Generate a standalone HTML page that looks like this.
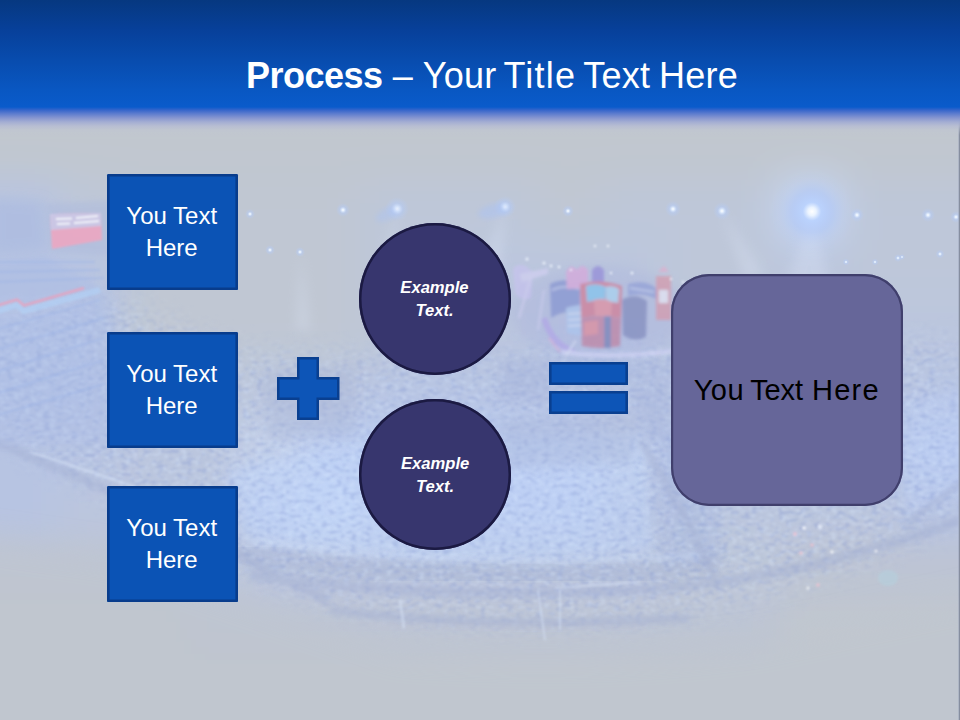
<!DOCTYPE html>
<html lang="en">
<head>
<meta charset="utf-8">
<title>Process – Your Title Text Here</title>
<style>
  html, body { margin: 0; padding: 0; }
  body { width: 960px; height: 720px; overflow: hidden; background: #c1c7cf;
         font-family: "Liberation Sans", sans-serif; }
  #slide { position: relative; width: 960px; height: 720px; overflow: hidden; }
  #bg { position: absolute; left: 0; top: 0; width: 960px; height: 720px; display: block; }

  /* header band */
  #header { position: absolute; left: 0; top: 0; width: 960px; height: 136px;
    background: linear-gradient(to bottom,
      #063880 0px, #07409a 30px, #084cae 60px, #0957c2 90px, #0a5bcb 107px,
      #3565cb 110px, #5b7bce 113.5px, #8796d0 118px, rgba(162,172,211,0.95) 122px,
      rgba(181,187,211,0.8) 126px, rgba(190,196,210,0.4) 130px, rgba(193,199,207,0) 135px); }

  #title { position: absolute; left: 0; top: 51px; width: 960px; height: 50px; margin: 0;
    color: #fff; font-weight: normal; font-size: 36px; line-height: 50px;
    white-space: nowrap; letter-spacing: 0.25px; }
  #title .in { position: absolute; left: 246px; top: 0; }
  #title b { font-size: 36px; letter-spacing: -0.5px; }
  #title .t1 { letter-spacing: 1.25px; margin-left: -3.3px; margin-right: -2.8px; }
  #title .t2 { margin-left: -1.4px; }

  .box { position: absolute; left: 107px; width: 131px; height: 116px;
    background: #0b53b5; box-shadow: inset 0 0 0 2.6px #083c8c; border-radius: 1.5px;
    color: #fff; font-size: 24px; line-height: 32px; text-align: center;
    display: flex; align-items: center; justify-content: center; }
  .box span { display: block; letter-spacing: 0; position: relative; left: -0.8px; }

  .circ { position: absolute; left: 359.2px; width: 151.6px; height: 151.6px;
    border-radius: 50%; background: #37366e; box-shadow: inset 0 0 0 2.5px #1b1a42;
    color: #fff; font-weight: bold; font-style: italic; font-size: 16.6px;
    line-height: 23px; text-align: center;
    display: flex; align-items: center; justify-content: center; }
  .circ span { display: block; position: relative; top: 0px; left: -0.5px; }

  .bar { position: absolute; left: 549px; width: 79px; height: 23px;
    background: #0d55b7; box-shadow: inset 0 0 0 2.6px #093f90; }

  #big { position: absolute; left: 671px; top: 274px; width: 232px; height: 231.5px;
    border-radius: 38px; background: #666699; box-shadow: inset 0 0 0 2.2px #403f6c;
    color: #000; font-size: 29px; letter-spacing: 0.45px; line-height: 36px; text-align: center; white-space: nowrap;
    display: flex; align-items: center; justify-content: center; }

  #big > span { position: relative; left: -0.8px; }
  #big .w2 { letter-spacing: -0.1px; margin-left: -2.4px; }
  #big .w3 { letter-spacing: 1.25px; margin-left: 0.6px; margin-right: -1.2px; }
  #plus { position: absolute; left: 276px; top: 356px; width: 65px; height: 65px; }
</style>
</head>
<body>
<div id="slide">
  <svg id="bg" width="960" height="720" viewBox="0 0 960 720">
    <defs>
      <filter id="b30" x="-20%" y="-20%" width="140%" height="140%"><feGaussianBlur stdDeviation="30"/></filter>
      <filter id="b20" x="-5%" y="-5%" width="110%" height="110%"><feGaussianBlur stdDeviation="20"/></filter>
      <filter id="b14" x="-20%" y="-20%" width="140%" height="140%"><feGaussianBlur stdDeviation="14"/></filter>
      <filter id="b6" x="-20%" y="-20%" width="140%" height="140%"><feGaussianBlur stdDeviation="6"/></filter>
      <filter id="b3" x="-20%" y="-20%" width="140%" height="140%"><feGaussianBlur stdDeviation="2.5"/></filter>
      <filter id="b2" x="-20%" y="-20%" width="140%" height="140%"><feGaussianBlur stdDeviation="1.5"/></filter>
      <filter id="b1" x="-20%" y="-20%" width="140%" height="140%"><feGaussianBlur stdDeviation="1"/></filter>
      <filter id="crowd" x="-10%" y="-15%" width="120%" height="130%" color-interpolation-filters="sRGB">
        <feTurbulence type="fractalNoise" baseFrequency="0.14 0.26" numOctaves="2" seed="11" result="n"/>
        <feColorMatrix in="n" type="matrix" values="0 0 0 0 0.50  0 0 0 0 0.58  0 0 0 0 0.82  6 0 0 0 -3.15" result="c"/>
        <feGaussianBlur in="c" stdDeviation="0.8" result="cb"/>
        <feGaussianBlur in="SourceAlpha" stdDeviation="14" result="m"/>
        <feComposite in="cb" in2="m" operator="in"/>
      </filter>
      <filter id="crowdL" x="-10%" y="-15%" width="120%" height="130%" color-interpolation-filters="sRGB">
        <feTurbulence type="fractalNoise" baseFrequency="0.16 0.3" numOctaves="2" seed="23" result="n"/>
        <feColorMatrix in="n" type="matrix" values="0 0 0 0 0.86  0 0 0 0 0.92  0 0 0 0 1.0  0 6 0 0 -3.15" result="c"/>
        <feGaussianBlur in="c" stdDeviation="0.8" result="cb"/>
        <feGaussianBlur in="SourceAlpha" stdDeviation="14" result="m"/>
        <feComposite in="cb" in2="m" operator="in"/>
      </filter>
      <radialGradient id="bigspot">
        <stop offset="0" stop-color="#ffffff" stop-opacity="1"/>
        <stop offset="0.1" stop-color="#eaf3ff" stop-opacity="1"/>
        <stop offset="0.22" stop-color="#b9d2ff" stop-opacity="0.85"/>
        <stop offset="0.5" stop-color="#a9c4fb" stop-opacity="0.42"/>
        <stop offset="0.78" stop-color="#b4caf6" stop-opacity="0.12"/>
        <stop offset="1" stop-color="#b4caf6" stop-opacity="0"/>
      </radialGradient>
      <radialGradient id="spot">
        <stop offset="0" stop-color="#ffffff" stop-opacity="1"/>
        <stop offset="0.18" stop-color="#e4f0ff" stop-opacity="0.9"/>
        <stop offset="0.5" stop-color="#b4ccfa" stop-opacity="0.45"/>
        <stop offset="1" stop-color="#b4ccfa" stop-opacity="0"/>
      </radialGradient>
    </defs>
    <rect width="960" height="720" fill="#c1c7cf"/>
    <!-- low-frequency tonal map of the arena photo -->
    <g filter="url(#b20)">
      <rect x="-90" y="90" width="151" height="91" fill="#c1c7cf"/>
      <rect x="60" y="90" width="61" height="91" fill="#c1c7cf"/>
      <rect x="120" y="90" width="61" height="91" fill="#c1c7cf"/>
      <rect x="180" y="90" width="61" height="91" fill="#c1c7cf"/>
      <rect x="240" y="90" width="61" height="91" fill="#c1c7cf"/>
      <rect x="300" y="90" width="61" height="91" fill="#c1c7cf"/>
      <rect x="360" y="90" width="61" height="91" fill="#c1c7cf"/>
      <rect x="420" y="90" width="61" height="91" fill="#c1c7cf"/>
      <rect x="480" y="90" width="61" height="91" fill="#c1c7cf"/>
      <rect x="540" y="90" width="61" height="91" fill="#c1c7cf"/>
      <rect x="600" y="90" width="61" height="91" fill="#c1c7cf"/>
      <rect x="660" y="90" width="61" height="91" fill="#c1c7cf"/>
      <rect x="720" y="90" width="61" height="91" fill="#c1c7cf"/>
      <rect x="780" y="90" width="61" height="91" fill="#c1c7cf"/>
      <rect x="840" y="90" width="61" height="91" fill="#c1c7cf"/>
      <rect x="900" y="90" width="151" height="91" fill="#c1c7cf"/>
      <rect x="-90" y="180" width="151" height="61" fill="#b7c4e2"/>
      <rect x="60" y="180" width="61" height="61" fill="#bec7d9"/>
      <rect x="120" y="180" width="61" height="61" fill="#c0c7d3"/>
      <rect x="180" y="180" width="61" height="61" fill="#c0c7d3"/>
      <rect x="240" y="180" width="61" height="61" fill="#c0c7d3"/>
      <rect x="300" y="180" width="61" height="61" fill="#c0c7d3"/>
      <rect x="360" y="180" width="61" height="61" fill="#bec7d9"/>
      <rect x="420" y="180" width="61" height="61" fill="#bec7d9"/>
      <rect x="480" y="180" width="61" height="61" fill="#bec7d9"/>
      <rect x="540" y="180" width="61" height="61" fill="#c0c7d3"/>
      <rect x="600" y="180" width="61" height="61" fill="#bec7d9"/>
      <rect x="660" y="180" width="61" height="61" fill="#bec7d9"/>
      <rect x="720" y="180" width="61" height="61" fill="#bec7d9"/>
      <rect x="780" y="180" width="61" height="61" fill="#c7d8f7"/>
      <rect x="840" y="180" width="61" height="61" fill="#bec7d9"/>
      <rect x="900" y="180" width="151" height="61" fill="#bec7d9"/>
      <rect x="-90" y="240" width="151" height="61" fill="#b7c4e2"/>
      <rect x="60" y="240" width="61" height="61" fill="#b7c4e2"/>
      <rect x="120" y="240" width="61" height="61" fill="#c0c7d3"/>
      <rect x="180" y="240" width="61" height="61" fill="#c0c7d3"/>
      <rect x="240" y="240" width="61" height="61" fill="#c0c7d3"/>
      <rect x="300" y="240" width="61" height="61" fill="#c0c7d3"/>
      <rect x="360" y="240" width="61" height="61" fill="#bec7d9"/>
      <rect x="420" y="240" width="61" height="61" fill="#bec7d9"/>
      <rect x="480" y="240" width="61" height="61" fill="#bbc6de"/>
      <rect x="540" y="240" width="61" height="61" fill="#bbc6de"/>
      <rect x="600" y="240" width="61" height="61" fill="#bbc6de"/>
      <rect x="660" y="240" width="61" height="61" fill="#bec7d9"/>
      <rect x="720" y="240" width="61" height="61" fill="#bec7d9"/>
      <rect x="780" y="240" width="61" height="61" fill="#bbc6de"/>
      <rect x="840" y="240" width="61" height="61" fill="#bec7d9"/>
      <rect x="900" y="240" width="151" height="61" fill="#bec7d9"/>
      <rect x="-90" y="300" width="151" height="61" fill="#b5c4e5"/>
      <rect x="60" y="300" width="61" height="61" fill="#b5c4e5"/>
      <rect x="120" y="300" width="61" height="61" fill="#c0c7d3"/>
      <rect x="180" y="300" width="61" height="61" fill="#c0c7d3"/>
      <rect x="240" y="300" width="61" height="61" fill="#c0c7d3"/>
      <rect x="300" y="300" width="61" height="61" fill="#c0c7d3"/>
      <rect x="360" y="300" width="61" height="61" fill="#bec7d9"/>
      <rect x="420" y="300" width="61" height="61" fill="#bbc6de"/>
      <rect x="480" y="300" width="61" height="61" fill="#bbc6de"/>
      <rect x="540" y="300" width="61" height="61" fill="#b7c4e2"/>
      <rect x="600" y="300" width="61" height="61" fill="#b7c4e2"/>
      <rect x="660" y="300" width="61" height="61" fill="#bbc6de"/>
      <rect x="720" y="300" width="61" height="61" fill="#bbc6de"/>
      <rect x="780" y="300" width="61" height="61" fill="#bbc6de"/>
      <rect x="840" y="300" width="61" height="61" fill="#bbc6de"/>
      <rect x="900" y="300" width="151" height="61" fill="#bbc6de"/>
      <rect x="-90" y="360" width="151" height="61" fill="#b5c4e5"/>
      <rect x="60" y="360" width="61" height="61" fill="#b5c4e5"/>
      <rect x="120" y="360" width="61" height="61" fill="#bbc6de"/>
      <rect x="180" y="360" width="61" height="61" fill="#bec7d9"/>
      <rect x="240" y="360" width="61" height="61" fill="#bbc6de"/>
      <rect x="300" y="360" width="61" height="61" fill="#bbc6de"/>
      <rect x="360" y="360" width="61" height="61" fill="#b7c4e2"/>
      <rect x="420" y="360" width="61" height="61" fill="#b7c4e2"/>
      <rect x="480" y="360" width="61" height="61" fill="#b7c4e2"/>
      <rect x="540" y="360" width="61" height="61" fill="#b7c4e2"/>
      <rect x="600" y="360" width="61" height="61" fill="#b7c4e2"/>
      <rect x="660" y="360" width="61" height="61" fill="#b7c4e2"/>
      <rect x="720" y="360" width="61" height="61" fill="#b7c4e2"/>
      <rect x="780" y="360" width="61" height="61" fill="#b7c4e2"/>
      <rect x="840" y="360" width="61" height="61" fill="#bbc6de"/>
      <rect x="900" y="360" width="151" height="61" fill="#b7c4e2"/>
      <rect x="-90" y="420" width="151" height="61" fill="#b7c4e2"/>
      <rect x="60" y="420" width="61" height="61" fill="#b7c4e2"/>
      <rect x="120" y="420" width="61" height="61" fill="#bbc6de"/>
      <rect x="180" y="420" width="61" height="61" fill="#bbc6de"/>
      <rect x="240" y="420" width="61" height="61" fill="#c5d1ea"/>
      <rect x="300" y="420" width="61" height="61" fill="#bccdf1"/>
      <rect x="360" y="420" width="61" height="61" fill="#bccdf1"/>
      <rect x="420" y="420" width="61" height="61" fill="#bccdf1"/>
      <rect x="480" y="420" width="61" height="61" fill="#bccdf1"/>
      <rect x="540" y="420" width="61" height="61" fill="#bccdf1"/>
      <rect x="600" y="420" width="61" height="61" fill="#c5d1ea"/>
      <rect x="660" y="420" width="61" height="61" fill="#b7c4e2"/>
      <rect x="720" y="420" width="61" height="61" fill="#b7c4e2"/>
      <rect x="780" y="420" width="61" height="61" fill="#b7c4e2"/>
      <rect x="840" y="420" width="61" height="61" fill="#b7c4e2"/>
      <rect x="900" y="420" width="151" height="61" fill="#bccdf1"/>
      <rect x="-90" y="480" width="151" height="61" fill="#b7c4e2"/>
      <rect x="60" y="480" width="61" height="61" fill="#bbc6de"/>
      <rect x="120" y="480" width="61" height="61" fill="#bbc6de"/>
      <rect x="180" y="480" width="61" height="61" fill="#bbc6de"/>
      <rect x="240" y="480" width="61" height="61" fill="#bccdf1"/>
      <rect x="300" y="480" width="61" height="61" fill="#c7d8f7"/>
      <rect x="360" y="480" width="61" height="61" fill="#bccdf1"/>
      <rect x="420" y="480" width="61" height="61" fill="#bccdf1"/>
      <rect x="480" y="480" width="61" height="61" fill="#bccdf1"/>
      <rect x="540" y="480" width="61" height="61" fill="#bccdf1"/>
      <rect x="600" y="480" width="61" height="61" fill="#b7c4e2"/>
      <rect x="660" y="480" width="61" height="61" fill="#bbc6de"/>
      <rect x="720" y="480" width="61" height="61" fill="#bbc6de"/>
      <rect x="780" y="480" width="61" height="61" fill="#bbc6de"/>
      <rect x="840" y="480" width="61" height="61" fill="#bbc6de"/>
      <rect x="900" y="480" width="151" height="61" fill="#b7c4e2"/>
      <rect x="-90" y="540" width="151" height="61" fill="#bdc4d3"/>
      <rect x="60" y="540" width="61" height="61" fill="#bdc4d3"/>
      <rect x="120" y="540" width="61" height="61" fill="#bdc4d3"/>
      <rect x="180" y="540" width="61" height="61" fill="#bec7d9"/>
      <rect x="240" y="540" width="61" height="61" fill="#bbc6de"/>
      <rect x="300" y="540" width="61" height="61" fill="#bbc6de"/>
      <rect x="360" y="540" width="61" height="61" fill="#bbc6de"/>
      <rect x="420" y="540" width="61" height="61" fill="#bbc6de"/>
      <rect x="480" y="540" width="61" height="61" fill="#bbc6de"/>
      <rect x="540" y="540" width="61" height="61" fill="#bbc6de"/>
      <rect x="600" y="540" width="61" height="61" fill="#bbc6de"/>
      <rect x="660" y="540" width="61" height="61" fill="#bec7d9"/>
      <rect x="720" y="540" width="61" height="61" fill="#bec7d9"/>
      <rect x="780" y="540" width="61" height="61" fill="#bdc4d3"/>
      <rect x="840" y="540" width="61" height="61" fill="#bdc4d3"/>
      <rect x="900" y="540" width="151" height="61" fill="#bdc4d3"/>
      <rect x="-90" y="600" width="151" height="61" fill="#c1c7cf"/>
      <rect x="60" y="600" width="61" height="61" fill="#c1c7cf"/>
      <rect x="120" y="600" width="61" height="61" fill="#c1c7cf"/>
      <rect x="180" y="600" width="61" height="61" fill="#bdc4d3"/>
      <rect x="240" y="600" width="61" height="61" fill="#bdc4d3"/>
      <rect x="300" y="600" width="61" height="61" fill="#bdc4d3"/>
      <rect x="360" y="600" width="61" height="61" fill="#bdc4d3"/>
      <rect x="420" y="600" width="61" height="61" fill="#bdc4d3"/>
      <rect x="480" y="600" width="61" height="61" fill="#bdc4d3"/>
      <rect x="540" y="600" width="61" height="61" fill="#bdc4d3"/>
      <rect x="600" y="600" width="61" height="61" fill="#bdc4d3"/>
      <rect x="660" y="600" width="61" height="61" fill="#bdc4d3"/>
      <rect x="720" y="600" width="61" height="61" fill="#bdc4d3"/>
      <rect x="780" y="600" width="61" height="61" fill="#c1c7cf"/>
      <rect x="840" y="600" width="61" height="61" fill="#c1c7cf"/>
      <rect x="900" y="600" width="151" height="61" fill="#c1c7cf"/>
      <rect x="-90" y="660" width="151" height="151" fill="#c1c7cf"/>
      <rect x="60" y="660" width="61" height="151" fill="#c1c7cf"/>
      <rect x="120" y="660" width="61" height="151" fill="#c1c7cf"/>
      <rect x="180" y="660" width="61" height="151" fill="#c1c7cf"/>
      <rect x="240" y="660" width="61" height="151" fill="#c1c7cf"/>
      <rect x="300" y="660" width="61" height="151" fill="#c1c7cf"/>
      <rect x="360" y="660" width="61" height="151" fill="#c1c7cf"/>
      <rect x="420" y="660" width="61" height="151" fill="#c1c7cf"/>
      <rect x="480" y="660" width="61" height="151" fill="#c1c7cf"/>
      <rect x="540" y="660" width="61" height="151" fill="#c1c7cf"/>
      <rect x="600" y="660" width="61" height="151" fill="#c1c7cf"/>
      <rect x="660" y="660" width="61" height="151" fill="#c1c7cf"/>
      <rect x="720" y="660" width="61" height="151" fill="#c1c7cf"/>
      <rect x="780" y="660" width="61" height="151" fill="#c1c7cf"/>
      <rect x="840" y="660" width="61" height="151" fill="#c1c7cf"/>
      <rect x="900" y="660" width="151" height="151" fill="#c1c7cf"/>
    </g>
    <!-- light seat tier (lower bowl) -->
    <path d="M226 472 Q300 448 420 443 Q560 439 644 432 L654 552 Q560 563 420 559 Q320 553 246 534 Z" fill="#c0d4f8" opacity="0.5" filter="url(#b6)"/>
    <path d="M905 400 L1000 380 L1000 470 L905 520 Z" fill="#bccef4" opacity="0.4" filter="url(#b6)"/>
    <!-- dark band right below the seat tier -->
    <path d="M236 552 Q420 582 640 574 L720 560" stroke="#a3afd0" stroke-width="20" fill="none" opacity="0.4" filter="url(#b6)"/>
    <path d="M650 430 L720 420 L720 560 L662 566 Z" fill="#a4b6e2" opacity="0.35" filter="url(#b6)"/>
    <!-- bright rim under the seats -->
    <path d="M250 540 Q420 566 640 558 L700 556" stroke="#d2e2fb" stroke-width="4" fill="none" opacity="0.5" filter="url(#b3)"/>
    <!-- crowd / seat texture inside the bowl -->
    <path d="M-20 322 L110 296 L240 352 L360 356 L960 340 L960 520 Q800 600 640 622 Q480 634 330 608 Q200 560 100 492 L-20 430 Z" fill="#000" filter="url(#crowd)" opacity="0.3"/>
    <path d="M-20 322 L110 296 L240 352 L360 356 L960 340 L960 520 Q800 600 640 622 Q480 634 330 608 Q200 560 100 492 L-20 430 Z" fill="#000" filter="url(#crowdL)" opacity="0.3"/>
    <!-- grey wash below the bowl rim -->
    <path d="M-60 530 L120 556 Q260 600 400 650 Q600 664 760 640 Q900 610 1020 585 L1020 780 L-60 780 Z" fill="#c0c6cf" opacity="0.55" filter="url(#b14)"/>
    <!-- rails and structures below the seats -->
    <g stroke="#a2aed2" fill="none" opacity="0.45" filter="url(#b3)">
      <path d="M-10 440 Q120 492 250 560 Q300 590 330 600" stroke-width="9"/>
      <path d="M250 575 Q420 600 640 590 Q800 580 960 520" stroke-width="10"/>
      <path d="M330 610 Q480 630 690 618" stroke-width="8"/>
      <path d="M640 440 Q690 520 720 590" stroke-width="8"/>
      <path d="M905 525 L965 480" stroke-width="7"/>
    </g>
    <g stroke="#d6e2f6" fill="none" opacity="0.5" filter="url(#b1)">
      <path d="M555 588 L640 582 M560 590 L560 630 M538 590 L545 640" stroke-width="2"/>
      <path d="M30 452 Q120 480 200 512" stroke-width="2.5"/>
      <path d="M400 600 L404 628" stroke-width="3"/>
    </g>
    <!-- light beams -->
    <g fill="#dfe9fb" opacity="0.28" filter="url(#b6)">
      <path d="M397 209 L370 300 L392 300 Z"/><path d="M505 207 L470 290 L500 295 Z"/>
      <path d="M812 211 L770 330 L840 330 Z"/><path d="M722 211 L745 280 L765 275 Z"/>
      <path d="M301 252 L296 330 L310 330 Z"/>
    </g>
    <!-- stage -->
    <ellipse cx="600" cy="312" rx="90" ry="46" fill="#a9b0dc" opacity="0.3" filter="url(#b6)"/>
    <g filter="url(#b2)" opacity="0.55">
      <path d="M513 268 Q520 262 527 267 L533 272 L531 298 Q521 302 515 293 Z" fill="#cbc2f3"/>
      <path d="M520 274 L548 268 L548 274 L522 282 Z" fill="#d9d3f7"/>
      <path d="M531 276 L519 318" stroke="#dcd6f8" stroke-width="2"/>
      <path d="M544 290 L538 330" stroke="#dcd6f8" stroke-width="1.6"/>
      <path d="M550 284 Q564 277 580 283 L580 316 Q565 308 551 318 Z" fill="#7888cc"/>
      <path d="M552 290 Q565 284 579 289" stroke="#c9d4f4" stroke-width="1.6" fill="none"/>
      <path d="M566 308 Q584 302 601 306 L601 334 Q584 338 567 333 Z" fill="#a9c8f2"/>
      <path d="M568 314 L600 312 M568 320 L600 318 M568 326 L600 324" stroke="#e6effc" stroke-width="1.6"/>
      <path d="M566 272 Q571 262 577 270 Q582 262 588 270 L588 288 L567 289 Z" fill="#e4a2da"/>
      <path d="M592 270 Q598 262 604 270 L604 284 L592 284 Z" fill="#8a7cd6"/>
      <path d="M580 284 Q600 278 622 286 L621 318 Q600 314 581 318 Z" fill="#dc687c"/>
      <path d="M586 286 Q597 282 606 287 L605 302 Q596 299 587 302 Z" fill="#74c8f2"/>
      <path d="M606 287 Q613 285 619 289 L618 303 Q612 301 606 303 Z" fill="#a7daf6"/>
      <path d="M594 300 Q604 297 612 302 L611 316 L595 316 Z" fill="#f0828c"/>
      <path d="M581 318 Q600 314 621 318 L620 346 Q600 350 582 346 Z" fill="#c4708e"/>
      <path d="M584 322 L598 320 L598 334 L584 336 Z" fill="#ee7c84"/>
      <path d="M604 316 L611 316 L611 348 L604 348 Z" fill="#656ea8"/>
      <path d="M622 300 Q635 292 647 301 L646 337 Q634 343 623 335 Z" fill="#727bb2"/>
      <path d="M628 284 Q645 279 656 288 L656 299 Q642 292 628 296 Z" fill="#8696d4"/>
      <path d="M630 288 L654 292" stroke="#cdd8f6" stroke-width="1.4"/>
      <path d="M656 276 L671 276 L671 320 L656 320 Z" fill="#e08e9c"/>
      <path d="M659 290 L668 290 L668 303 L659 303 Z" fill="#f7f4fc"/>
      <path d="M658 272 L664 266 L669 272 Z" fill="#eea6c8"/>
      <path d="M544 318 Q552 344 574 352" stroke="#b09fe9" stroke-width="6" fill="none"/>
      <path d="M549 338 L560 352" stroke="#e8a8d8" stroke-width="2" fill="none"/>
      <path d="M561 352 Q615 359 672 351" stroke="#dadafb" stroke-width="4.5" fill="none"/>
      <path d="M576 340 L566 356" stroke="#e6ecfb" stroke-width="1.6"/>
    </g>
    <!-- darker crowd around the stage apron -->
    <g fill="#a0aed8" opacity="0.35" filter="url(#b6)">
      <path d="M500 362 L552 360 L552 402 L500 404 Z"/>
      <path d="M560 366 L670 362 L670 378 L560 384 Z"/>
      <path d="M632 388 L670 384 L670 440 L640 440 Z"/>
      <path d="M498 418 L640 412 L632 462 L498 470 Z" fill="#a2aed2"/>
      <path d="M262 372 L356 366 L356 436 L268 440 Z" fill="#a6b2d4"/>
    </g>
    <g fill="#f2f7ff" opacity="0.8" filter="url(#b1)">
      <circle cx="527" cy="259" r="1.6"/><circle cx="544" cy="263" r="1.6"/><circle cx="551" cy="266" r="1.4"/>
      <circle cx="559" cy="267" r="1.4"/><circle cx="571" cy="270" r="1.3"/><circle cx="595" cy="246" r="1.3"/>
      <circle cx="608" cy="246" r="1.3"/><circle cx="611" cy="273" r="1.3"/><circle cx="632" cy="273" r="1.5"/>
      <circle cx="671" cy="279" r="1.3"/><circle cx="683" cy="282" r="1.3"/>
    </g>
    <!-- dark wall left of the screen -->
    <path d="M-8 198 L44 202 L47 250 L-8 254 Z" fill="#a9b9e0" opacity="0.55" filter="url(#b6)"/>
    <path d="M46 204 L112 200 L112 256 L50 252 Z" fill="#aebbdd" opacity="0.5" filter="url(#b3)"/>
    <!-- big screen on the left -->
    <g filter="url(#b1)" opacity="0.85">
      <path d="M50 214 L101 213 L102 240 L52 249 Z" fill="#f0a6c0"/>
      <path d="M50 214 L101 213 L101 226 L51 230 Z" fill="#cfc8e6"/>
      <path d="M56 219 L72 218.5 M76 218 L98 216 M57 224 L70 223.5 M74 223 L99 221" stroke="#fbfbff" stroke-width="2" fill="none"/>
    </g>
    <!-- lower part of the left stand (darker seats) -->
    <path d="M-12 316 L24 316 L108 292 L114 332 L114 444 L-12 444 Z" fill="#a8bae6" opacity="0.3" filter="url(#b6)"/>
    <!-- upper seating block -->
    <path d="M-8 262 L45 256 L104 290 L24 304 L17 298 L-8 305 Z" fill="#adbde4" opacity="0.5" filter="url(#b3)"/>
    <path d="M-5 312 L17 305 L24 311 L100 290" stroke="#b2d0f5" stroke-width="6" fill="none" opacity="0.7" filter="url(#b1)"/>
    <path d="M-5 306 L17 299.5 L24 305.5 L84 288" stroke="#ee9fba" stroke-width="2.4" fill="none" opacity="0.8" filter="url(#b1)"/>
    <!-- seat rows on the left stand -->
    <g stroke="#9db4e6" fill="none" opacity="0.4" filter="url(#b1)" stroke-width="2.5">
      <path d="M-5 262 L95 262"/><path d="M-5 272 L100 270"/><path d="M-5 282 L104 278"/>
      <path d="M-5 330 L100 300"/><path d="M-5 350 L104 318"/><path d="M-5 372 L104 338"/>
      <path d="M-5 394 L104 360"/><path d="M-5 416 L104 384"/>
    </g>
    <!-- coloured lights lower right -->
    <g filter="url(#b1)" opacity="0.7">
      <circle cx="795" cy="534" r="2" fill="#f6c4d4"/><circle cx="804" cy="528" r="2" fill="#ffffff"/>
      <circle cx="820" cy="527" r="2.4" fill="#eef4ff"/><circle cx="812" cy="545" r="1.8" fill="#f4c0cc"/>
      <circle cx="801" cy="553" r="1.8" fill="#f4c0cc"/><circle cx="832" cy="552" r="1.8" fill="#ffffff"/>
      <circle cx="818" cy="585" r="1.8" fill="#f4c0cc"/><circle cx="808" cy="588" r="1.6" fill="#ffffff"/>
      <circle cx="876" cy="551" r="1.6" fill="#ffffff"/>
      <ellipse cx="888" cy="578" rx="10" ry="8" fill="#b0d6e2" opacity="0.6"/>
    </g>
    <!-- spotlights -->
    <circle cx="812" cy="211.5" r="42" fill="url(#bigspot)"/>
    <circle cx="397" cy="209" r="12" fill="url(#spot)"/>
    <circle cx="505" cy="207" r="11" fill="url(#spot)"/>
    <circle cx="343" cy="210" r="7" fill="url(#spot)"/>
    <circle cx="568" cy="211" r="6" fill="url(#spot)"/>
    <circle cx="673" cy="209" r="8" fill="url(#spot)"/>
    <circle cx="722" cy="211" r="9" fill="url(#spot)"/>
    <circle cx="857" cy="215" r="7" fill="url(#spot)"/>
    <circle cx="928" cy="215" r="7" fill="url(#spot)"/>
    <circle cx="956" cy="217" r="6" fill="url(#spot)"/>
    <circle cx="898" cy="258" r="4" fill="url(#spot)"/><circle cx="940" cy="254" r="4.5" fill="url(#spot)"/>
    <circle cx="875" cy="262" r="3.5" fill="url(#spot)"/><circle cx="846" cy="262" r="3.5" fill="url(#spot)"/>
    <circle cx="902" cy="257" r="3" fill="url(#spot)"/>
    <ellipse cx="494" cy="211" rx="16" ry="7" fill="#a9c2f6" opacity="0.45" filter="url(#b3)" transform="rotate(-14 494 211)"/>
    <ellipse cx="388" cy="214" rx="13" ry="6" fill="#a9c2f6" opacity="0.4" filter="url(#b3)" transform="rotate(-25 388 214)"/>
    <circle cx="250" cy="214" r="5" fill="url(#spot)"/>
    <circle cx="270" cy="250" r="5" fill="url(#spot)"/>
    <circle cx="300" cy="252" r="5" fill="url(#spot)"/>
    <rect x="958" y="112" width="1" height="608" fill="#9aa2b8" opacity="0.45"/>
    <rect x="959" y="112" width="1" height="608" fill="#7f8799" opacity="0.9"/>
  </svg>


  <div id="header"></div>
  <h1 id="title"><span class="in"><b>Process</b> – Your <span class="t1">Title</span> Text <span class="t2">Here</span></span></h1>

  <div class="box" style="top:174px"><span>You Text<br>Here</span></div>
  <div class="box" style="top:332px"><span>You Text<br>Here</span></div>
  <div class="box" style="top:486px"><span>You Text<br>Here</span></div>

  <svg id="plus" viewBox="0 0 65 65">
    <path d="M22.25 2.25 H41.75 V22.25 H62.25 V42.75 H41.75 V62.75 H22.25 V42.75 H2.25 V22.25 H22.25 Z" fill="#0d55b7" stroke="#093f90" stroke-width="2.5" stroke-linejoin="miter"/>
  </svg>

  <div class="circ" style="top:223.1px"><span>Example<br>Text.</span></div>
  <div class="circ" style="top:398.7px"><span style="top:1px;left:0.2px">Example<br>Text.</span></div>

  <div class="bar" style="top:362px"></div>
  <div class="bar" style="top:391px"></div>

  <div id="big"><span><span class="w1">You</span> <span class="w2">Text</span> <span class="w3">Here</span></span></div>
</div>
</body>
</html>
